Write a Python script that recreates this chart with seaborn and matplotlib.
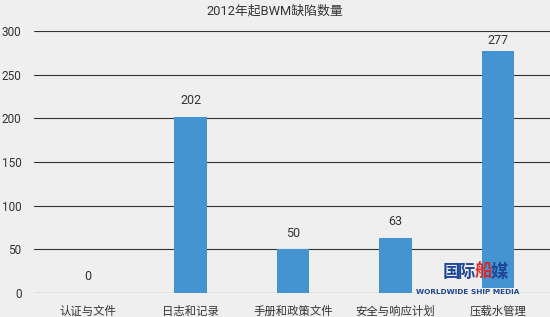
import matplotlib
matplotlib.use("Agg")
import matplotlib.pyplot as plt
import seaborn as sns
import pandas as pd

categories = ["认证与文件", "日志和记录", "手册和政策文件", "安全与响应计划", "压载水管理"]
values = [0, 202, 50, 63, 277]
yticks = [0, 50, 100, 150, 200, 250, 300]
title = "2012年起BWM缺陷数量"
logo_chars = ["国", "际", "船", "媒"]
logo_colors = ["#1e4796", "#1e4796", "#d42a2a", "#1e4796"]
logo_sub = "WORLDWIDE SHIP MEDIA"

sns.set_theme(style="white")
plt.rcParams['font.family'] = ['Roboto', 'Noto Sans CJK SC', 'DejaVu Sans']

df = pd.DataFrame({"cat": categories, "val": values})

bg = "#efefef"
W, H = 550, 317
top_px, bot_px, left_px = 31, 293, 34
fig = plt.figure(figsize=(W / 100, H / 100), dpi=100, facecolor=bg)
ax = fig.add_axes([left_px / W, (H - bot_px) / H, (W - left_px) / W, (bot_px - top_px) / H])
ax.set_facecolor(bg)

sns.barplot(data=df, x="cat", y="val", color="#4394d0", width=0.32,
            saturation=1, ax=ax, zorder=3, linewidth=0, edgecolor="none")

ax.set_ylim(0, 300)
ax.set_xlim(-0.527, 4.507)
ax.set_yticks(yticks)
ax.set_yticklabels([str(v) for v in yticks])
for y in yticks:
    ax.axhline(y, color="#333333", lw=0.8, zorder=2)
for s in ax.spines.values():
    s.set_visible(False)
ax.tick_params(axis="y", length=0, pad=9, labelsize=8.5, labelcolor="#333333")
ax.tick_params(axis="x", length=0, pad=9, labelsize=8.2, labelcolor="#333333")
ax.set_xlabel("")
ax.set_ylabel("")

# value labels above bars, kept inside the plot area
px_per_unit = (bot_px - top_px) / 300
max_label = (bot_px - 46.5) / px_per_unit
for i, v in enumerate(values):
    yl = min(v + 9.5 / px_per_unit, max_label)
    ax.text(i, yl, str(v), ha="center", va="bottom", fontsize=9, color="#333333", zorder=4)

fig.text(0.5, 1 - 11 / H, title, ha="center", va="center", fontsize=9.3, color="#333333")

# watermark logo (as text)
for k, (ch, col) in enumerate(zip(logo_chars, logo_colors)):
    fig.text((451 + 16 * k) / W, 1 - 272 / H, ch, ha="center", va="center",
             fontsize=12.5, fontweight="bold", color=col, family=['Noto Sans CJK SC'], zorder=10)
fig.text(468 / W, 1 - 292 / H, logo_sub, ha="center", va="center", fontsize=5.3,
         fontweight="bold", color="#1e4796", family=['DejaVu Sans'], zorder=10,
         bbox=dict(facecolor=bg, edgecolor="none", pad=0.6))

fig.savefig("out.png", dpi=100, facecolor=bg)
